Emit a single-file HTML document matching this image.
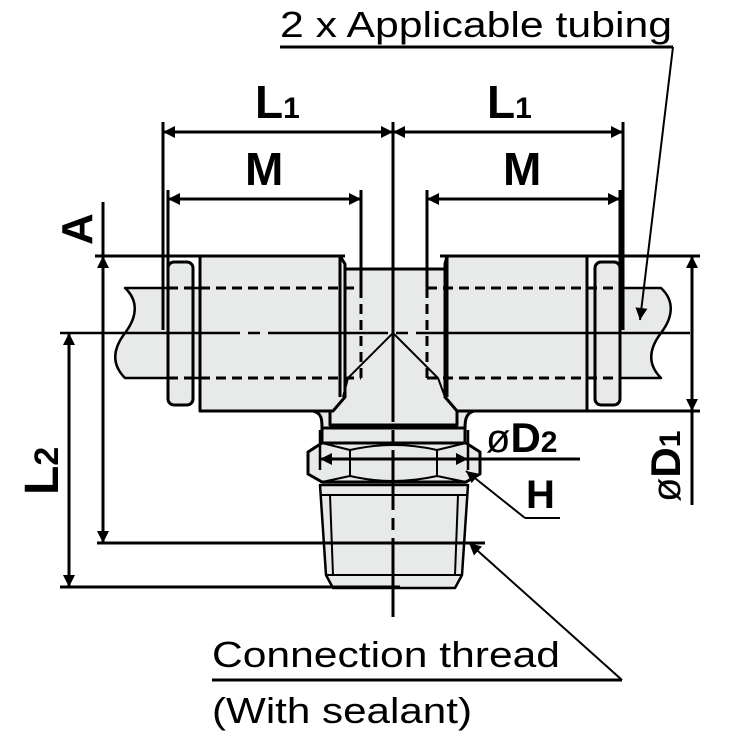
<!DOCTYPE html>
<html><head><meta charset="utf-8"><style>
html,body{margin:0;padding:0;background:#fff}
svg{display:block}
text{font-family:"Liberation Sans",Arial,sans-serif;fill:#000}
</style></head><body>
<svg width="738" height="745" viewBox="0 0 738 745" xmlns="http://www.w3.org/2000/svg">
<defs>
<marker id="ar" viewBox="0 0 10 10" refX="10" refY="5" markerWidth="20" markerHeight="12" markerUnits="userSpaceOnUse" orient="auto-start-reverse"><path d="M0,0L10,5L0,10z" fill="#000"/></marker>
</defs>
<g fill="#e8e9e9" stroke="#000" stroke-width="3" stroke-linejoin="round">
<path d="M125,288 H200 V378 H125 C112,365 112,350 125,333 C138,316 138,300 125,288Z" stroke-width="2.5"/>
<path d="M587,288 H661 C674,300 674,316 661,333 C648,350 648,365 661,378 H587Z" stroke-width="2.5"/>
<path d="M320,485 H468 L462,575 L455,588 H333 L326,575Z" stroke-width="2.5"/>
<line x1="320" y1="495" x2="468" y2="495" stroke-width="2"/>
<line x1="326" y1="575" x2="462" y2="575" stroke-width="2"/>
<line x1="330" y1="495" x2="333" y2="575" stroke-width="2"/>
<line x1="458" y1="495" x2="455" y2="575" stroke-width="2"/>
<path d="M313,411 C322,413 322,420 322,428 V443 H465 V428 C465,420 466,413 474,411Z"/>
<line x1="322" y1="428" x2="465" y2="428"/>
<path d="M308,452 L322,443 H466 L480,452 V474 L466,482 H322 L308,474Z"/>
<path d="M322,443 L350,450 V476 L322,482 M466,443 L437,450 V476 L466,482 M350,450 Q393,440 437,450 M350,476 Q393,486 437,476" fill="none" stroke-width="2"/>
<path d="M345,269 H445 V397 L457,408 V425 H330 V408 L343,397Z"/>
<path d="M200,256 H340 L345,264 V397 L333,411 H200Z"/>
<path d="M447,256 H587 V411 H457 L445,397 V264Z"/>
<line x1="340" y1="256" x2="340" y2="397"/>
<line x1="447" y1="256" x2="447" y2="397"/>
<rect x="168" y="262" width="25" height="143" rx="6"/>
<rect x="595" y="262" width="25" height="143" rx="6"/>
</g>
<g stroke="#000" fill="none">
<path d="M393,333 L348,378 L343,397 M393,333 L438,378 L445,397" stroke-width="2"/>
<path d="M168,288 H361 M168,378 H361 M427,288 H620 M427,378 H620 M361,288 V378 M427,288 V378" stroke-width="3" stroke-dasharray="10,6"/>
<path d="M60,333 H690" stroke-width="2.5" stroke-dasharray="180,8,12,8,120,8,12,8,300"/>
<path d="M393,122 V617" stroke-width="3" stroke-dasharray="300,8,12,8,60,8,12,8,200"/>
<path d="M95,256 H345 M440,256 H700 M587,411 H700 M97,543 H485 M60,587 H400 M163,122 V330 M168,190 V330 M361,190 V288 M427,190 V288 M620,190 V330 M623,122 V330" stroke-width="3"/>
<path d="M320,430 V470 M468,430 V470" stroke-width="2.5"/>
<g stroke-width="3">
<line x1="163" y1="132" x2="393" y2="132" marker-start="url(#ar)" marker-end="url(#ar)"/>
<line x1="393" y1="132" x2="623" y2="132" marker-start="url(#ar)" marker-end="url(#ar)"/>
<line x1="168" y1="199" x2="361" y2="199" marker-start="url(#ar)" marker-end="url(#ar)"/>
<line x1="427" y1="199" x2="620" y2="199" marker-start="url(#ar)" marker-end="url(#ar)"/>
<line x1="103" y1="202" x2="103" y2="256"/>
<line x1="103" y1="256" x2="103" y2="543" marker-start="url(#ar)" marker-end="url(#ar)"/>
<line x1="69" y1="333" x2="69" y2="587" marker-start="url(#ar)" marker-end="url(#ar)"/>
<line x1="692" y1="256" x2="692" y2="411" marker-start="url(#ar)" marker-end="url(#ar)"/>
<line x1="692" y1="411" x2="692" y2="505"/>
<line x1="320" y1="459" x2="468" y2="459" marker-start="url(#ar)" marker-end="url(#ar)"/>
<line x1="468" y1="459" x2="580" y2="459"/>
<line x1="280" y1="47" x2="673" y2="47"/>
<line x1="212" y1="680" x2="622" y2="680"/>
</g>
<g stroke-width="2">
<line x1="673" y1="47" x2="640" y2="320" marker-end="url(#ar)"/>
<line x1="560" y1="518" x2="525" y2="518"/>
<line x1="525" y1="518" x2="466" y2="471" marker-end="url(#ar)"/>
<line x1="622" y1="680" x2="469" y2="543" marker-end="url(#ar)"/>
</g>
</g>
<text x="280" y="37" font-size="36" textLength="392" lengthAdjust="spacingAndGlyphs">2 x Applicable tubing</text>
<text x="255" y="118" font-size="46" font-weight="bold">L<tspan font-size="30">1</tspan></text>
<text x="487" y="118" font-size="46" font-weight="bold">L<tspan font-size="30">1</tspan></text>
<text x="245" y="185" font-size="46" font-weight="bold">M</text>
<text x="503" y="185" font-size="46" font-weight="bold">M</text>
<text transform="translate(92,245) rotate(-90)" font-size="44" font-weight="bold">A</text>
<text transform="translate(58,495) rotate(-90)" font-size="48" font-weight="bold">L<tspan font-size="34">2</tspan></text>
<text x="486" y="452" font-size="40">ø<tspan font-weight="bold" font-size="42">D</tspan><tspan font-weight="bold" font-size="30">2</tspan></text>
<text x="526" y="508" font-size="40" font-weight="bold">H</text>
<text transform="translate(680,502) rotate(-90)" font-size="40">ø<tspan font-weight="bold" font-size="42">D</tspan><tspan font-weight="bold" font-size="30">1</tspan></text>
<text x="212" y="667" font-size="36" textLength="348" lengthAdjust="spacingAndGlyphs">Connection thread</text>
<text x="212" y="723" font-size="36" textLength="260" lengthAdjust="spacingAndGlyphs">(With sealant)</text>
</svg>
</body></html>
